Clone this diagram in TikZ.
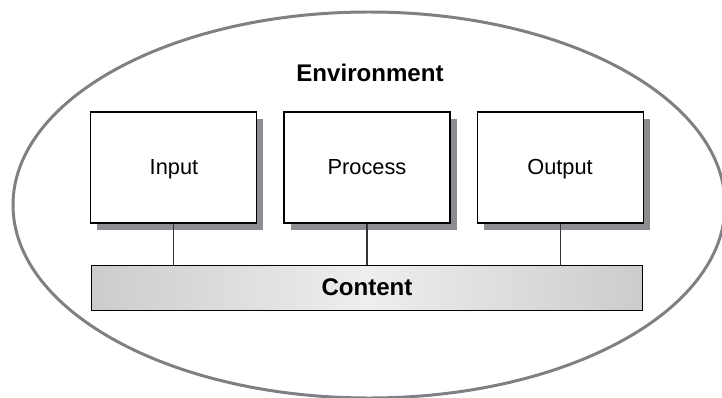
\documentclass[tikz,border=0pt]{standalone}
\usepackage{fontspec}
\setmainfont{Liberation Sans}
\usepackage{xcolor}
\usepackage{tikz}
\usetikzlibrary{positioning, shadows}
\definecolor{ringgray}{RGB}{128, 128, 132}
\definecolor{shadowgray}{RGB}{140, 140, 145}
\definecolor{bargray}{RGB}{204, 204, 206}
\definecolor{barlight}{RGB}{238, 238, 239}

\begin{document}
\begin{tikzpicture}[
        stagebox/.style={draw=black, fill=white, line width=0.6pt, inner sep=0pt,
            minimum width=3.32cm, minimum height=2.22cm,
            text height=0.76em, text depth=0em,
            font=\fontsize{12.4}{14}\selectfont,
            drop shadow={shadow xshift=0.13cm, shadow yshift=-0.13cm, fill=shadowgray, opacity=1}},
        contentbar/.style={draw=black, line width=0.6pt, inner sep=0pt,
            minimum width=11.02cm, minimum height=0.9cm,
            text height=0.92em, text depth=0em,
            left color=bargray, right color=bargray, middle color=barlight,
            font=\bfseries\fontsize{13.7}{16}\selectfont}
    ]
        \path[use as bounding box, clip] (0,0) rectangle (14.44,-7.94);
        \draw[ringgray, line width=1.7pt] (7.38,-4.10) ellipse [x radius=7.12cm, y radius=3.86cm];

        \node[font=\bfseries\fontsize{13.7}{16}\selectfont] (env) at (7.40,-1.46) {Environment};

        \node[stagebox] (process) at (7.34,-3.35) {Process};
        \node[stagebox, left=0.52cm of process] (input) {Input};
        \node[stagebox, right=0.52cm of process] (output) {Output};

        \node[contentbar, below=0.82cm of process] (content) {Content};

        % links down to the content bar
        \foreach \n in {input, process, output}
            \draw[line width=0.6pt, black!80] (\n.south) -- (\n.south |- content.north);
    \end{tikzpicture}
\end{document}
